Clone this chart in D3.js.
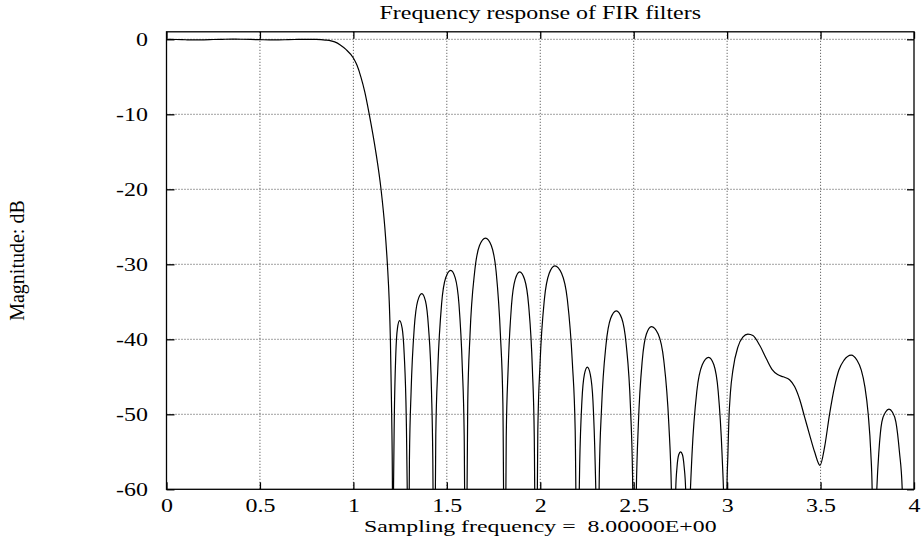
<!DOCTYPE html>
<html>
<head>
<meta charset="utf-8">
<script src="https://cdn.jsdelivr.net/npm/d3@7"></script>
<style>
body { margin: 0; background: #fff; }
text { font-family: "Liberation Serif", "Times New Roman", serif; fill: #000; }
</style>
</head>
<body>
<svg id="chart" width="923" height="548"></svg>
<script>
// frequency response of the FIR filter (dB, clipped at -60)
var freq = [
  0, 0.05, 0.1, 0.15, 0.2, 0.25, 0.3, 0.35, 0.4, 0.45, 0.5, 0.55, 0.6, 0.65, 0.7, 0.75, 0.8, 0.85, 0.88, 0.9,
  0.93, 0.96, 1.0, 1.020, 1.040, 1.061, 1.085, 1.120, 1.148, 1.168, 1.182, 1.192, 1.198, 1.205, 1.209,
  1.211, 1.215, 1.219, 1.227, 1.236, 1.247, 1.261, 1.272, 1.283, 1.288,
  1.293, 1.300, 1.309, 1.326, 1.344, 1.366, 1.386, 1.402, 1.418, 1.425,
  1.432, 1.441, 1.452, 1.472, 1.494, 1.521, 1.545, 1.565, 1.583, 1.593,
  1.601, 1.612, 1.624, 1.649, 1.675, 1.707, 1.738, 1.764, 1.787, 1.800,
  1.810, 1.818, 1.828, 1.846, 1.866, 1.890, 1.916, 1.938, 1.958, 1.968,
  1.977, 1.987, 1.999, 2.022, 2.048, 2.078, 2.114, 2.145, 2.172, 2.187,
  2.199, 2.205, 2.211, 2.223, 2.236, 2.252, 2.268, 2.282, 2.294, 2.301,
  2.306, 2.316, 2.328, 2.352, 2.377, 2.407, 2.436, 2.460, 2.483, 2.494,
  2.504, 2.514, 2.525, 2.546, 2.568, 2.595, 2.631, 2.661, 2.688, 2.702,
  2.714, 2.725, 2.732, 2.741, 2.751, 2.761, 2.770, 2.778,
  2.786, 2.798, 2.812, 2.838, 2.867, 2.901, 2.929, 2.952, 2.973, 2.985,
  2.994, 2.999, 3.004, 3.009, 3.018, 3.031, 3.058, 3.084, 3.111, 3.138, 3.174, 3.210, 3.240, 3.270,
  3.300, 3.334, 3.361, 3.388, 3.414, 3.441, 3.468, 3.497, 3.522, 3.548, 3.575, 3.598, 3.625, 3.664,
  3.695, 3.718, 3.737, 3.755, 3.769, 3.776,
  3.781, 3.801, 3.812, 3.828, 3.848, 3.866, 3.884, 3.903, 3.922, 3.937,
  3.942, 4.0
];
var magDb = [
  0, -0.03, -0.06, -0.08, -0.07, -0.03, 0, 0.02, 0.01, -0.02, -0.05, -0.08, -0.08, -0.05, -0.02, 0, -0.02, -0.1, -0.2, -0.35,
  -0.75, -1.35, -2.5, -3.5, -5, -7, -10, -15, -20, -25, -30, -35, -40, -50, -60,
  -80, -59.5, -50.5, -42, -38.5, -37.5, -38.5, -42, -50.5, -59.5,
  -80, -55.9, -46.9, -38.4, -34.9, -33.9, -34.9, -38.4, -46.9, -55.9,
  -80, -52.8, -43.8, -35.3, -31.8, -30.8, -31.8, -35.3, -43.8, -52.8,
  -80, -48.5, -39.5, -31, -27.5, -26.5, -27.5, -31, -39.5, -48.5,
  -80, -53, -44, -35.5, -32, -31, -32, -35.5, -44, -53,
  -80, -52.2, -43.2, -34.7, -31.2, -30.2, -31.2, -34.7, -43.2, -52.2,
  -80, -65.7, -56.7, -48.2, -44.7, -43.7, -44.7, -48.2, -56.7, -65.7,
  -80, -58.2, -49.2, -40.7, -37.2, -36.2, -37.2, -40.7, -49.2, -58.2,
  -80, -60.3, -51.3, -42.8, -39.3, -38.3, -39.3, -42.8, -51.3, -60.3,
  -80, -60, -57, -55.4, -55, -55.4, -57, -60,
  -80, -64.4, -55.4, -46.9, -43.4, -42.4, -43.4, -46.9, -55.4, -64.4,
  -80, -60, -55.5, -51, -47, -44.1, -41, -39.7, -39.3, -39.5, -40.8, -42.6, -44, -44.7,
  -45, -45.4, -46.3, -48, -50.3, -52.7, -55, -56.8, -54.3, -50, -46.3, -44.1, -42.8, -42.1,
  -42.8, -44.1, -46.3, -50, -55.2, -60,
  -80, -60, -55, -51, -49.7, -49.3, -49.7, -51, -55, -60,
  -80, -80
];

var xTicks = [0, 0.5, 1, 1.5, 2, 2.5, 3, 3.5, 4];
var xTickLabels = ["0", "0.5", "1", "1.5", "2", "2.5", "3", "3.5", "4"];
var yTicks = [0, -10, -20, -30, -40, -50, -60];
var yTickLabels = ["0", "-10", "-20", "-30", "-40", "-50", "-60"];

var titleText = "Frequency response of FIR filters";
var xLabelText = "Sampling frequency =  8.00000E+00";
var yLabelText = "Magnitude: dB";

var svg = d3.select("#chart"),
    margin = {top: 31.8, right: 9, bottom: 58.7, left: 166.5},
    width = +svg.attr("width") - margin.left - margin.right,
    height = +svg.attr("height") - margin.top - margin.bottom,
    g = svg.append("g").attr("transform", "translate(" + margin.left + "," + margin.top + ")");

var stretch = 1.33; // the reference text is wider than plain Times

var x = d3.scaleLinear().domain([0, 4]).range([0, width]);
var y = d3.scaleLinear().domain([-60, 1]).range([height, 0]);

// dotted grid
g.append("g").selectAll("line")
    .data(xTicks.slice(1, -1))
    .enter().append("line")
    .attr("x1", function(d) { return x(d); }).attr("x2", function(d) { return x(d); })
    .attr("y1", 0).attr("y2", height)
    .attr("stroke", "#444").attr("stroke-width", 1).attr("stroke-dasharray", "1,2");
g.append("g").selectAll("line")
    .data(yTicks.slice(0, -1))
    .enter().append("line")
    .attr("x1", 0).attr("x2", width)
    .attr("y1", function(d) { return y(d); }).attr("y2", function(d) { return y(d); })
    .attr("stroke", "#444").attr("stroke-width", 1).attr("stroke-dasharray", "1,2");

// curve, clipped to the plot box
svg.append("defs").append("clipPath").attr("id", "plotclip")
    .append("rect").attr("width", width).attr("height", height);

var pts = freq.map(function(f, i) { return [f, magDb[i]]; });
var line = d3.line()
    .x(function(d) { return x(d[0]); })
    .y(function(d) { return y(d[1]); })
    .curve(d3.curveMonotoneX);

g.append("path")
    .datum(pts)
    .attr("clip-path", "url(#plotclip)")
    .attr("fill", "none")
    .attr("stroke", "#000")
    .attr("stroke-width", 1.2)
    .attr("d", line);

// axes with inward ticks
g.append("g").attr("transform", "translate(0," + height + ")")
    .call(d3.axisBottom(x).tickValues(xTicks).tickSize(-7).tickPadding(10)
        .tickFormat(function(d, i) { return xTickLabels[i]; }));
g.append("g")
    .call(d3.axisLeft(y).tickValues(yTicks).tickSize(-8).tickPadding(14)
        .tickFormat(function(d, i) { return yTickLabels[i]; }));
g.append("g")
    .call(d3.axisTop(x).tickValues(xTicks).tickSize(-7).tickFormat(""));
g.append("g").attr("transform", "translate(" + width + ",0)")
    .call(d3.axisRight(y).tickValues(yTicks).tickSize(-7).tickFormat(""));

g.selectAll(".domain").remove();
g.selectAll(".tick line").attr("stroke", "#000").attr("stroke-width", 1.3);
g.selectAll(".tick text")
    .attr("font-family", null)
    .attr("font-size", null)
    .style("font-size", "18px")
    .attr("transform", "scale(" + stretch + ",1)");

// frame
g.append("rect").attr("width", width).attr("height", height)
    .attr("fill", "none").attr("stroke", "#000").attr("stroke-width", 1.3);

// title and labels
svg.append("text")
    .attr("transform", "translate(" + (margin.left + width / 2) + ",19) scale(" + stretch + ",1)")
    .attr("text-anchor", "middle").style("font-size", "18px")
    .text(titleText);
svg.append("text")
    .attr("transform", "translate(" + (margin.left + width / 2) + ",532) scale(1.4,1)")
    .attr("text-anchor", "middle").style("font-size", "17px").style("white-space", "pre")
    .text(xLabelText);
svg.append("text")
    .attr("transform", "translate(24," + (margin.top + height / 2) + ") rotate(-90)")
    .attr("text-anchor", "middle").style("font-size", "20px")
    .text(yLabelText);
</script>
</body>
</html>
